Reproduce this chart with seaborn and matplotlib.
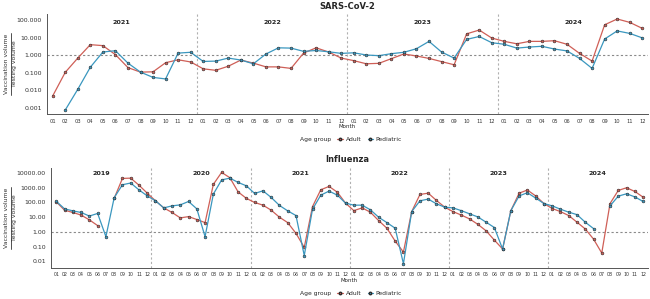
import numpy as np
import pandas as pd
import matplotlib
matplotlib.use("Agg")
import matplotlib.pyplot as plt
import seaborn as sns
from matplotlib.lines import Line2D

nan = np.nan

# SARS-CoV-2, monthly 2021-01 .. 2024-12
covid_years = ["2021", "2022", "2023", "2024"]
covid_adult = [
    0.0048, 0.107, 0.7, 4.1, 3.6, 1.1, 0.2, 0.11, 0.115, 0.38, 0.56, 0.42,
    0.17, 0.14, 0.24, 0.54, 0.36, 0.22, 0.22, 0.18, 1.35, 2.7, 1.55, 0.7,
    0.5, 0.33, 0.35, 0.65, 1.2, 0.92, 0.67, 0.44, 0.29, 17, 28, 9.8,
    6.3, 4.6, 6.3, 6.3, 6.9, 4.3, 1.3, 0.47, 56, 120, 77, 35,
]
covid_pediatric = [
    nan, 0.00075, 0.0115, 0.21, 1.55, 1.85, 0.36, 0.11, 0.055, 0.045, 1.35, 1.5,
    0.45, 0.47, 0.7, 0.54, 0.33, 1.2, 2.7, 2.6, 1.7, 1.9, 1.6, 1.3,
    1.4, 1.05, 0.96, 1.25, 1.5, 2.4, 6.3, 1.55, 0.7, 8.2, 12, 5.3,
    4.3, 2.6, 3.0, 3.3, 2.3, 1.8, 0.67, 0.18, 8.6, 25, 18, 10,
]

# Influenza, monthly 2019-01 .. 2024-12
flu_years = ["2019", "2020", "2021", "2022", "2023", "2024"]
flu_adult = [
    110, 30, 21, 14, 6.6, 2.7, nan, 190, 4300, 4500, 1500, 430,
    130, 43, 21, 9, 11, 7, 4.3, 1700, 11000, 4800, 520, 190,
    100, 66, 30, 10, 4.3, 0.8, 0.09, 53, 730, 1230, 500, 90,
    28, 43, 22, 5.9, 1.8, 0.24, 0.043, 24, 350, 430, 137, 48,
    24, 14, 7.7, 3.3, 1.2, 0.28, 0.07, 28, 430, 700, 280, 85,
    39, 24, 13, 4.6, 1.6, 0.33, 0.037, 85, 660, 1000, 560, 230,
]
flu_pediatric = [
    120, 37, 27, 21, 12, 18, 0.48, 210, 1600, 2100, 720, 280,
    130, 43, 59, 69, 117, 37, 0.48, 370, 3400, 4500, 2300, 1350,
    410, 620, 220, 63, 27, 13, 0.025, 35, 316, 590, 316, 90,
    66, 66, 32, 10, 4.3, 1.8, 0.007, 24, 130, 170, 81, 48,
    43, 28, 17, 10.5, 4.6, 2.0, 0.07, 28, 280, 460, 200, 85,
    59, 35, 22, 15, 4.6, 1.7, nan, 59, 270, 390, 240, 117,
]

months = [f"{m:02d}" for m in range(1, 13)]
palette = {"Adult": "#cf5f57", "Pediatric": "#3a97bf"}


def to_long(adult, pediatric):
    frames = []
    for group, vals in [("Adult", adult), ("Pediatric", pediatric)]:
        v = np.array(vals, dtype=float)
        seg = np.cumsum(np.isnan(v))  # break the line at missing months
        frames.append(pd.DataFrame({"idx": np.arange(len(v)), "ratio": v,
                                    "Age group": group, "seg": seg}))
    df = pd.concat(frames, ignore_index=True).dropna()
    df["unit"] = df["Age group"] + df["seg"].astype(str)
    return df


def draw_panel(ax, df, years, yticks, ylabels, ylim, year_y, xfs):
    n = len(years) * 12
    sns.lineplot(data=df, x="idx", y="ratio", hue="Age group", units="unit",
                 estimator=None, palette=palette, marker="o", markersize=2.0,
                 markeredgecolor="#2b2b2b", markeredgewidth=0.4,
                 linewidth=0.9, legend=False, ax=ax)
    ax.set_yscale("log")
    ax.set_ylim(*ylim)
    ax.set_yticks(yticks)
    ax.set_yticklabels(ylabels, fontsize=4.5)
    ax.minorticks_off()
    ax.set_xticks(range(n))
    ax.set_xticklabels(months * len(years), fontsize=xfs)
    ax.axhline(1, color="#8a8a8a", ls=(0, (2, 2)), lw=0.8, zorder=0)
    for k in range(1, len(years)):
        ax.axvline(12 * k - 0.5, color="#b0b0b0", ls=(0, (2, 2)), lw=0.8, zorder=0)
    for k, yr in enumerate(years):
        ax.text(12 * k + 5.5, year_y, yr, transform=ax.get_xaxis_transform(),
                ha="center", va="center", fontsize=4.6, fontweight="bold", color="#222")
    ax.set_ylabel("")
    ax.set_xlabel("Month", fontsize=4.0, labelpad=0.5)
    ax.tick_params(axis="both", length=2, width=0.6, pad=1.5, colors="#333")
    for s in ["top", "right"]:
        ax.spines[s].set_visible(False)
    for s in ["left", "bottom"]:
        ax.spines[s].set_color("#555")
        ax.spines[s].set_linewidth(0.7)


def fraction_label(fig, yc):
    W, H = fig.get_size_inches() * fig.dpi
    t1 = fig.text(6.2 / W, yc, "Vaccination volume", rotation=90, ha="center",
                  va="center", fontsize=4.4, color="#333")
    fig.text(14.8 / W, yc, "Testing volume", rotation=90, ha="center",
             va="center", fontsize=4.4, color="#333")
    fig.canvas.draw()
    bb = t1.get_window_extent()
    half = (bb.height / 2 + 1) / H
    fig.add_artist(Line2D([10.5 / W, 10.5 / W], [yc - half, yc + half],
                          transform=fig.transFigure, color="#333", lw=0.6))


sns.set_style("white")
plt.rcParams["font.family"] = ["DejaVu Sans"]

fig = plt.figure(figsize=(6.5, 2.99), dpi=100)
ax1 = fig.add_axes([0.0718, 0.619, 0.925, 0.334])
ax2 = fig.add_axes([0.078, 0.105, 0.919, 0.333])

covid = to_long(covid_adult, covid_pediatric)
flu = to_long(flu_adult, flu_pediatric)

draw_panel(ax1, covid, covid_years,
           [0.001, 0.01, 0.1, 1, 10, 100],
           ["0.001", "0.010", "0.100", "1.000", "10.000", "100.000"],
           (0.00045, 230), 0.92, 3.7)
ax1.set_xlim(-0.48, 47.45)

draw_panel(ax2, flu, flu_years,
           [0.01, 0.1, 1, 10, 100, 1000, 10000],
           ["0.01", "0.10", "1.00", "10.00", "100.00", "1000.00", "10000.00"],
           (0.0038, 21800), 0.95, 3.4)
ax2.set_xlim(-0.68, 71.6)

fig.text(0.534, 0.977, "SARS-CoV-2", ha="center", va="center", fontsize=6.0, fontweight="bold")
fig.text(0.534, 0.468, "Influenza", ha="center", va="center", fontsize=6.0, fontweight="bold")

fraction_label(fig, (299 - 64) / 299)
fraction_label(fig, (299 - 218) / 299)

handles = [Line2D([], [], linestyle="none", label="Age group")]
for g in ["Adult", "Pediatric"]:
    handles.append(Line2D([], [], color=palette[g], marker="o", markersize=1.8,
                          markeredgecolor="#2b2b2b", lw=0.9, label=g))
for ypos in [0.535, 0.02]:
    fig.legend(handles=handles, loc="center", bbox_to_anchor=(0.534, ypos), ncol=3,
               frameon=False, fontsize=4.3, handlelength=1.0, handletextpad=0.4,
               columnspacing=1.0)

fig.savefig("out.png", dpi=100)
